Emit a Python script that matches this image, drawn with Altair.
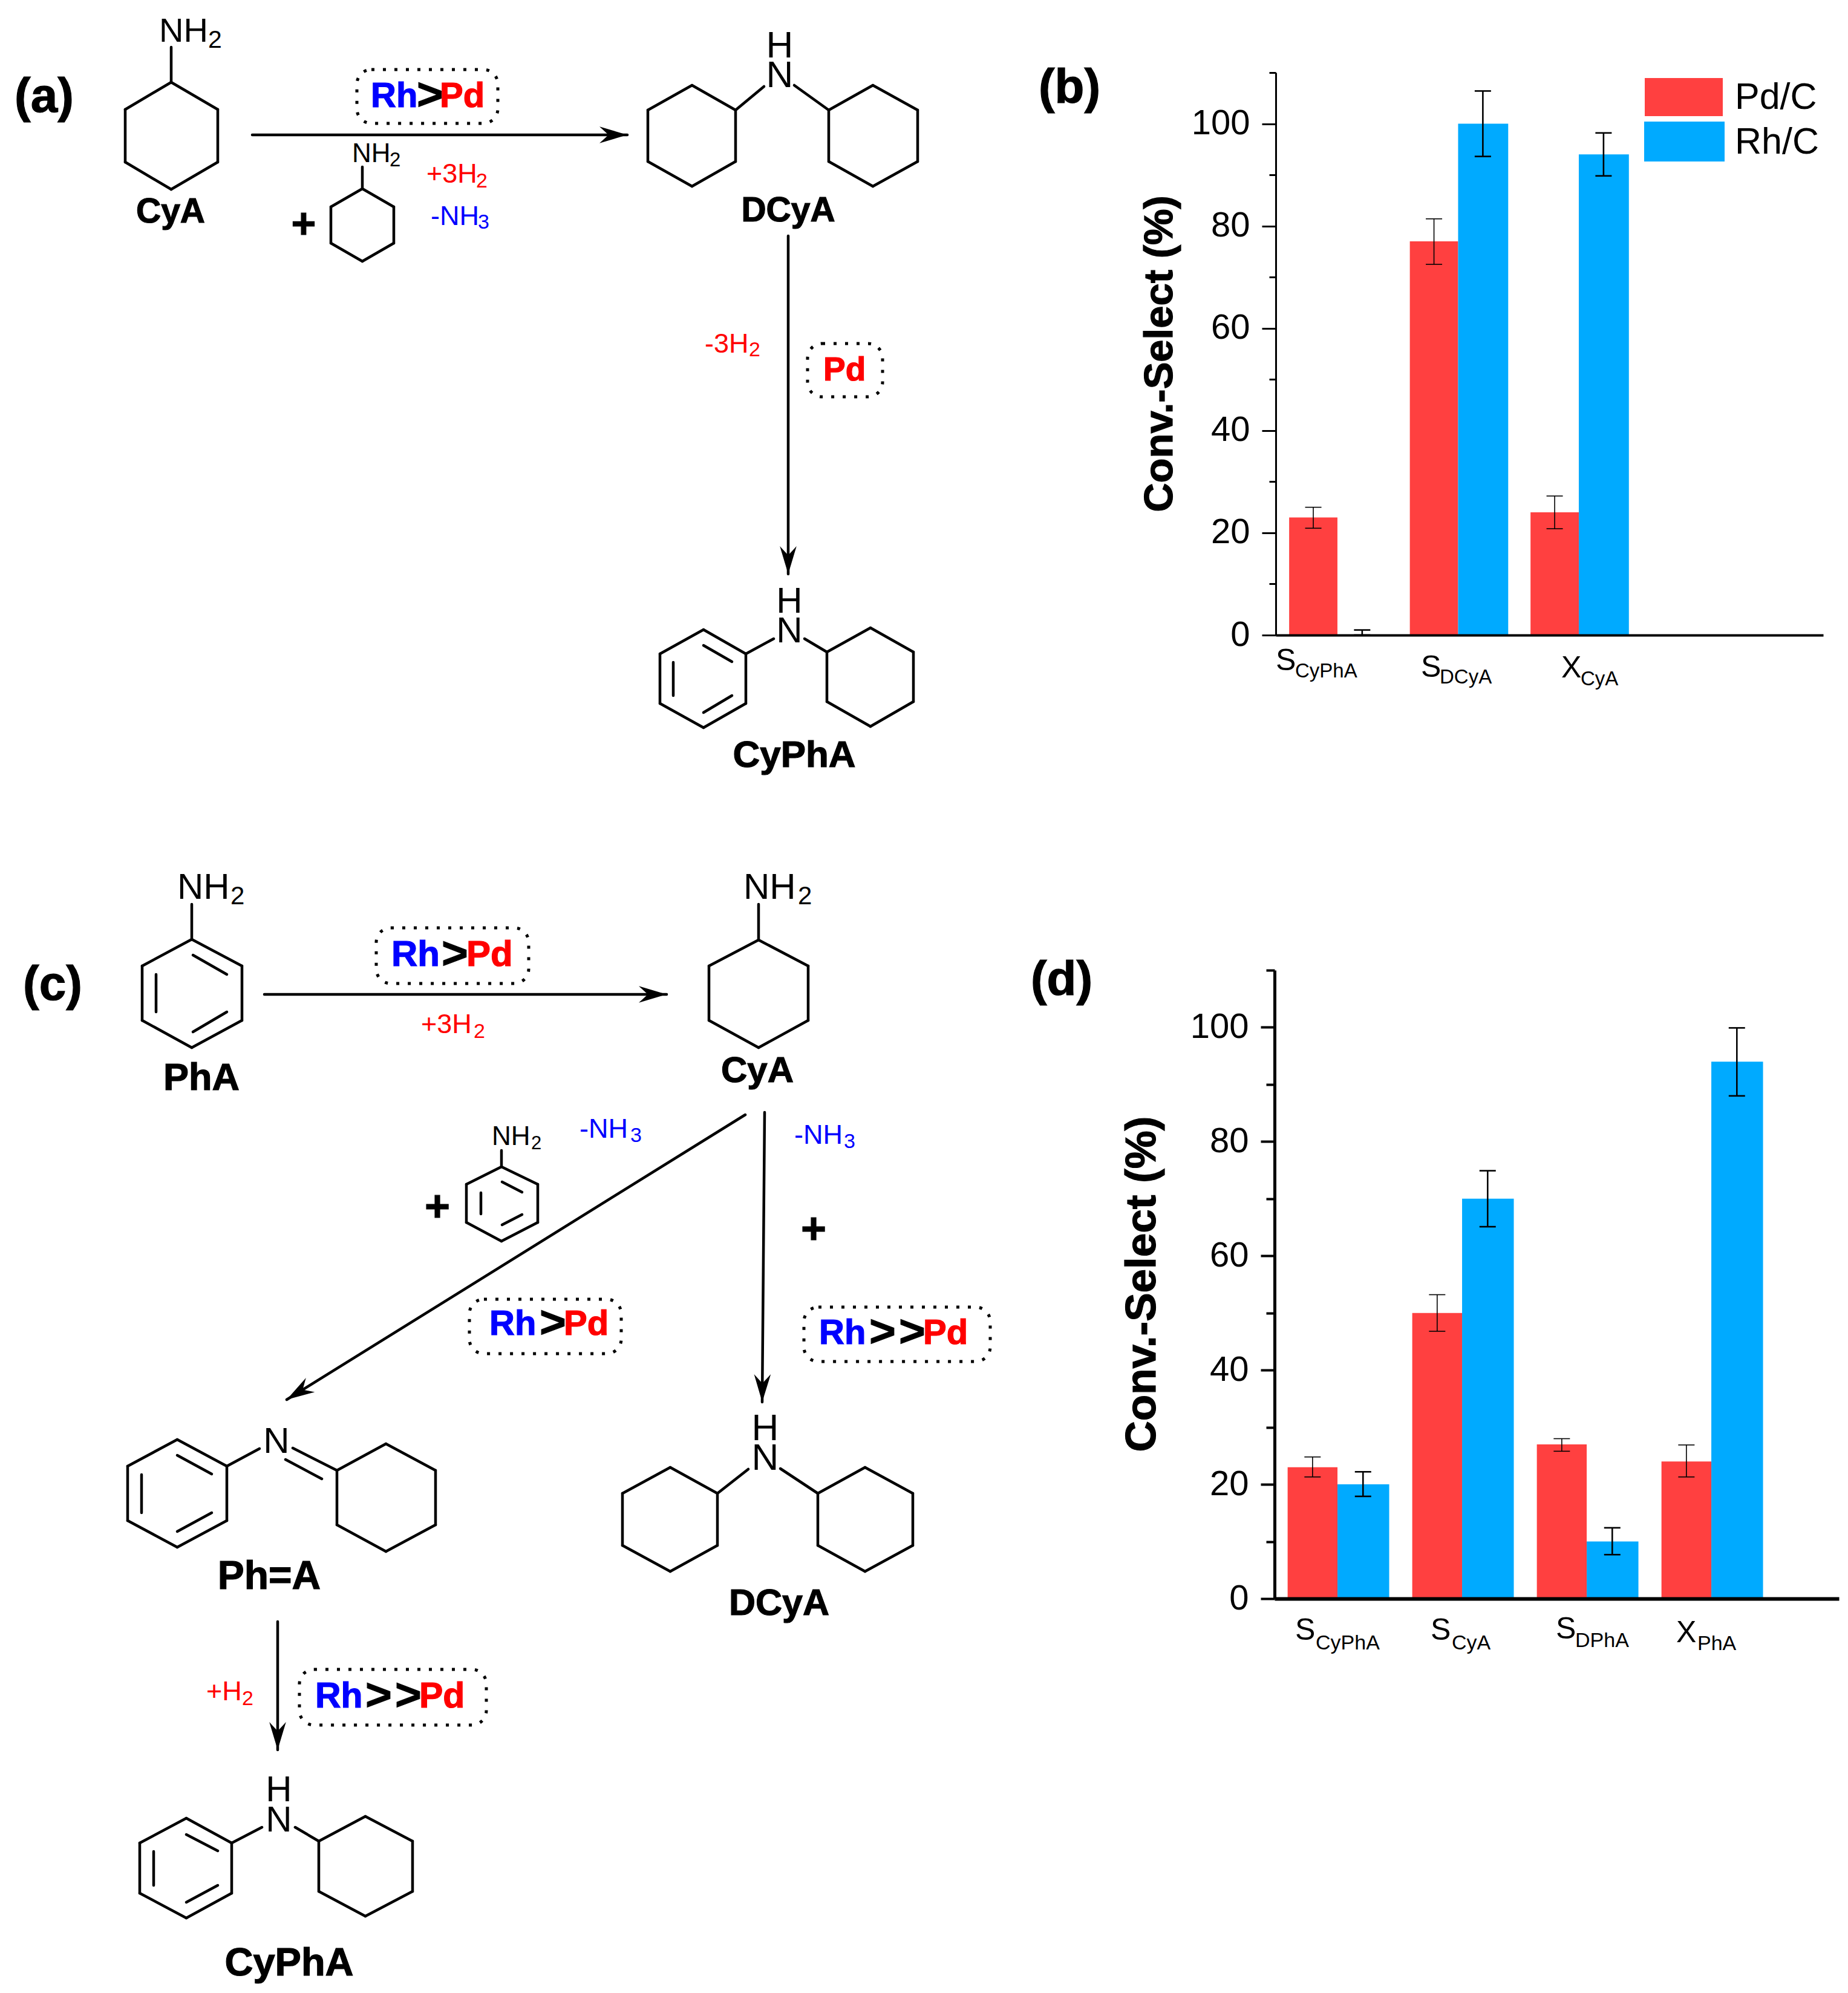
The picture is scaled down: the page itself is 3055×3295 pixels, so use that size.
import math
import altair as alt
import pandas as pd

FONT = "Liberation Sans"
RED = "#FF4040"
BLUE = "#00AAFF"
W, H = 3039, 3279

# ---------- bar values ----------
b_groups = [1, 2, 3]
b_pd = [23, 77, 24]
b_rh = [0, 100, 94]
b_pd_hi = [25, 81.4, 27.2]
b_pd_lo = [20.9, 72.5, 20.8]
b_rh_hi = [1, 106.4, 98.2]
b_rh_lo = [0, 93.6, 89.8]

d_groups = [1, 2, 3, 4]
d_pd = [23, 50, 27, 24]
d_rh = [20, 70, 10, 94]
d_pd_hi = [24.8, 53.2, 28, 26.9]
d_pd_lo = [21.3, 46.8, 25.8, 21.3]
d_rh_hi = [22.2, 74.9, 12.4, 99.9]
d_rh_lo = [17.9, 65.1, 7.7, 88]

major_ticks = [0, 20, 40, 60, 80, 100]
minor_ticks = [10, 30, 50, 70, 90, 110]

# ---------- molecule outlines ----------
closed_rings = [
    # (a) CyA, added CyA, DCyA x2, CyPhA x2
    [(283,136),(207,181),(207,268),(283,313),(360,268),(360,181)],
    [(599,312),(547,342),(547,402),(599,432),(651,402),(651,342)],
    [(1071,182),(1144,141),(1216,182),(1216,267),(1144,308),(1071,267)],
    [(1370,182),(1443,141),(1517,182),(1517,267),(1443,308),(1370,267)],
    [(1163,1041),(1091,1081),(1091,1163),(1163,1203),(1233,1163),(1233,1081)],
    [(1367,1078),(1439,1038),(1510,1078),(1510,1160),(1439,1201),(1367,1160)],
    # (c) PhA, CyA, added PhA, Ph=A x2, DCyA x2, CyPhA x2
    [(317,1553),(235,1597),(235,1687),(317,1732),(400,1687),(400,1597)],
    [(1254,1554),(1172,1597),(1172,1687),(1254,1732),(1336,1687),(1336,1597)],
    [(829,1929),(771,1958),(771,2021),(829,2052),(889,2021),(889,1958)],
    [(293,2380),(211,2424),(211,2514),(293,2558),(375,2514),(375,2424)],
    [(557,2431),(638,2387),(720,2431),(720,2521),(638,2565),(557,2521)],
    [(1029,2469),(1108,2426),(1186,2469),(1186,2555),(1108,2598),(1029,2555)],
    [(1352,2469),(1430,2426),(1509,2469),(1509,2555),(1430,2598),(1352,2555)],
    [(231,3047),(308,3006),(383,3047),(383,3130),(308,3171),(231,3130)],
    [(527,3044),(604,3003),(682,3044),(682,3127),(604,3168),(527,3127)],
]
bonds = [
    # (a)
    (283,136,283,78),(599,312,599,276),
    (1216,182,1263,143),(1313,141,1370,182),
    (1163,1067,1210,1094),(1113,1095,1113,1150),(1163,1178,1210,1150),
    (1233,1081,1279,1056),(1330,1056,1367,1078),
    # (c)
    (317,1553,317,1495),(1254,1554,1254,1495),(829,1929,829,1902),
    (319,1579,375,1611),(258,1611,258,1673),(319,1706,375,1673),
    (830,1954,863,1971),(795,1972,795,2007),(830,2025,863,2008),
    (293,2406,350,2437),(234,2438,234,2501),(293,2532,350,2501),
    (375,2424,429,2395),(484,2394,557,2431),(472,2413,532,2445),
    (1186,2469,1237,2429),(1290,2428,1352,2469),
    (308,3033,360,3060),(254,3061,254,3117),(308,3145,360,3117),
    (383,3047,433,3021),(488,3021,527,3044),
]
arrows = [
    (417,223,1037,223),(1303,390,1303,949),
    (437,1644,1102,1644),(1232,1843,474,2314),(1264,1839,1260,2318),
    (459,2681,459,2893),
]
boxes = [
    (590,115,823,204),(1335,568,1459,656),
    (622,1534,874,1626),(776,2148,1027,2238),(1329,2161,1637,2251),(495,2760,804,2852),
]

# text, x, baseline y, size, colour
reg_left = [
    ("NH",263,69,56,"black"),("2",344,79,41,"black"),
    ("NH",582,268,44,"black"),("2",644,275,33,"black"),
    ("+3H",705,302,45,"red"),("2",787,310,34,"red"),
    ("-NH",712,372,45,"blue"),("3",790,378,34,"blue"),
    ("-3H",1165,583,45,"red"),("2",1238,589,34,"red"),
    ("NH",293,1486,60,"black"),("2",381,1495,42,"black"),
    ("NH",1229,1486,60,"black"),("2",1319,1495,42,"black"),
    ("NH",813,1893,44,"black"),("2",878,1900,31,"black"),
    ("+3H",696,1708,45,"red"),("2",783,1716,34,"red"),
    ("-NH",958,1881,45,"blue"),("3",1042,1888,34,"blue"),
    ("-NH",1313,1891,45,"blue"),("3",1395,1898,34,"blue"),
    ("+H",341,2811,45,"red"),("2",400,2819,34,"red"),
    # bar chart labels
    ("S",2109,1108,50,"black"),("CyPhA",2141,1120,33,"black"),
    ("S",2349,1119,50,"black"),("DCyA",2380,1130,33,"black"),
    ("X",2581,1120,50,"black"),("CyA",2613,1133,33,"black"),
    ("Pd/C",2868,180,61,"black"),("Rh/C",2868,254,61,"black"),
    ("S",2141,2711,50,"black"),("CyPhA",2175,2727,34,"black"),
    ("S",2365,2711,50,"black"),("CyA",2400,2727,34,"black"),
    ("S",2572,2709,50,"black"),("DPhA",2604,2723,34,"black"),
    ("X",2771,2715,50,"black"),("PhA",2806,2728,34,"black"),
]
reg_center = [
    ("H",1289,95,62,"black"),("N",1289,144,62,"black"),
    ("H",1305,1013,60,"black"),("N",1305,1062,60,"black"),
    ("N",457,2402,60,"black"),
    ("H",1265,2381,62,"black"),("N",1265,2430,62,"black"),
    ("H",461,2978,60,"black"),("N",461,3028,60,"black"),
]
bold_center = [
    ("(a)",73,185,80,"black"),("(b)",1768,170,80,"black"),
    ("(c)",87,1653,80,"black"),("(d)",1755,1645,80,"black"),
    ("CyA",282,368,57,"black"),("DCyA",1303,366,57,"black"),
    ("CyPhA",1313,1268,62,"black"),("PhA",333,1802,63,"black"),
    ("CyA",1252,1789,60,"black"),("Ph=A",445,2627,66,"black"),
    ("DCyA",1288,2670,61,"black"),("CyPhA",478,3266,65,"black"),
    ("+",502,394,70,"black"),("+",723,2019,72,"black"),("+",1345,2056,72,"black"),
]
bold_left = [
    ("Rh",613,177,58,"blue"),(">",689,181,75,"black"),("Pd",727,177,58,"red"),
    ("Pd",1361,629,55,"red"),
    ("Rh",647,1597,60,"blue"),(">",730,1601,75,"black"),("Pd",771,1597,60,"red"),
    ("Rh",809,2207,58,"blue"),(">",892,2211,75,"black"),("Pd",932,2207,58,"red"),
    ("Rh",1354,2222,58,"blue"),(">",1437,2226,75,"black"),(">",1486,2226,75,"black"),("Pd",1526,2222,58,"red"),
    ("Rh",521,2823,59,"blue"),(">",604,2827,75,"black"),(">",653,2827,75,"black"),("Pd",693,2823,59,"red"),
]
y_titles = [("Conv.-Select (%)",1938,585,67),("Conv.-Select (%)",1910,2123,71)]

legend_swatches = [(2719,129,2848,192,RED),(2718,201,2851,267,BLUE)]

# ---------- page-pixel scale used by the schemes ----------
PX = alt.Scale(domain=[8, 8 + W], range=[0, W], nice=False, zero=False)
PY = alt.Scale(domain=[8, 8 + H], range=[0, H], nice=False, zero=False)


def seg_layer(rows, width):
    df = pd.DataFrame(rows, columns=["x1", "y1", "x2", "y2"])
    return alt.Chart(df).mark_rule(strokeWidth=width, strokeCap="round", color="black").encode(
        x=alt.X("x1:Q", scale=PX, axis=None),
        x2="x2:Q",
        y=alt.Y("y1:Q", scale=PY, axis=None),
        y2="y2:Q",
    )


def text_layer(rows, weight, align, heavy=0):
    df = pd.DataFrame(rows, columns=["t", "x", "y", "s", "c"])
    opts = {}
    enc = {}
    if heavy:
        opts["strokeWidth"] = heavy
        enc["stroke"] = alt.Stroke("c:N", scale=None, legend=None)
    return alt.Chart(df).mark_text(
        font=FONT, fontWeight=weight, align=align, baseline="alphabetic", **opts
    ).encode(
        x=alt.X("x:Q", scale=PX, axis=None),
        y=alt.Y("y:Q", scale=PY, axis=None),
        text="t:N",
        size=alt.Size("s:Q", scale=None, legend=None),
        color=alt.Color("c:N", scale=None, legend=None),
        **enc,
    )


ring_segments = []
for ring in closed_rings:
    for i, p in enumerate(ring):
        q = ring[(i + 1) % len(ring)]
        ring_segments.append((p[0], p[1], q[0], q[1]))

layers = [seg_layer(ring_segments, 4.5), seg_layer(bonds, 4.5), seg_layer(arrows, 4.5)]

# arrow heads, tip on the end of each arrow
head_rows = []
for x1, y1, x2, y2 in arrows:
    head_rows.append({"x": x2, "y": y2, "a": math.degrees(math.atan2(x2 - x1, y1 - y2)) % 360})
layers.append(
    alt.Chart(pd.DataFrame(head_rows)).mark_point(
        shape="M0,0 L0.6,2 L0,1.35 L-0.6,2 Z", size=2116, filled=True, opacity=1, color="black"
    ).encode(
        x=alt.X("x:Q", scale=PX, axis=None),
        y=alt.Y("y:Q", scale=PY, axis=None),
        angle=alt.Angle("a:Q", scale=None),
    )
)

# dotted catalyst boxes
layers.append(
    alt.Chart(pd.DataFrame(boxes, columns=["x1", "y1", "x2", "y2"])).mark_rect(
        fill="#ffffff", fillOpacity=0, stroke="black", strokeWidth=5,
        strokeDash=[5, 14], cornerRadius=24
    ).encode(
        x=alt.X("x1:Q", scale=PX, axis=None), x2="x2:Q",
        y=alt.Y("y1:Q", scale=PY, axis=None), y2="y2:Q",
    )
)


def panel(groups, pd_v, rh_v, pd_hi, pd_lo, rh_hi, rh_lo, xdom, xpx, ypx, dom_w, tick_w, minor_len, pad):
    sx = alt.Scale(domain=xdom, range=[xpx[0] - 8, xpx[1] - 8], nice=False, zero=False)
    sy = alt.Scale(domain=[0, 110], range=[ypx[0] - 8, ypx[1] - 8], nice=False, zero=False)
    axis_off = -(xpx[0] - 8)
    out = []
    # x axis line
    out.append(
        alt.Chart(pd.DataFrame({"x": [xdom[0]]})).mark_point(opacity=0).encode(
            x=alt.X("x:Q", scale=sx, title=None, axis=alt.Axis(
                orient="bottom", offset=-(H - (ypx[0] - 8)), labels=False, ticks=False, grid=False,
                domainColor="black", domainWidth=dom_w + 1, zindex=1)),
            y=alt.Y("x:Q", scale=sy, axis=None),
        )
    )
    series = [("Pd/C", pd_v, pd_hi, pd_lo, RED, -0.40, 0.0, -0.20, 1.6),
              ("Rh/C", rh_v, rh_hi, rh_lo, BLUE, 0.0, 0.415, 0.205, 2.6)]
    first = True
    for name, vals, hi, lo, col, a, b, c, th in series:
        df = pd.DataFrame({
            "group": groups, "value": vals, "hi": hi, "lo": lo,
            "zero": [0] * len(groups),
            "left": [g + a for g in groups], "right": [g + b for g in groups],
            "mid": [g + c for g in groups],
        })
        yaxis = None
        if first:
            yaxis = alt.Axis(
                orient="left", offset=axis_off, values=major_ticks, grid=False, title=None,
                domainColor="black", domainWidth=dom_w, tickColor="black", tickWidth=tick_w,
                tickSize=23, labelFont=FONT, labelFontSize=58, labelColor="black",
                labelPadding=pad, labelBaseline="middle", zindex=1,
            )
            first = False
        out.append(
            alt.Chart(df).mark_bar(color=col, opacity=1).encode(
                x=alt.X("left:Q", scale=sx, axis=None), x2="right:Q",
                y=alt.Y("value:Q", scale=sy, axis=yaxis), y2="zero:Q",
            )
        )
        base = alt.Chart(df)
        out.append(base.mark_rule(color="black", strokeWidth=th).encode(
            x=alt.X("mid:Q", scale=sx, axis=None),
            y=alt.Y("hi:Q", scale=sy, axis=None), y2="lo:Q"))
        for col_name in ("hi", "lo"):
            out.append(base.mark_tick(orient="horizontal", size=27, thickness=th, color="black", opacity=1).encode(
                x=alt.X("mid:Q", scale=sx, axis=None),
                y=alt.Y(f"{col_name}:Q", scale=sy, axis=None)))
    # minor ticks
    out.append(
        alt.Chart(pd.DataFrame({"m": minor_ticks})).mark_point(opacity=0).encode(
            y=alt.Y("m:Q", scale=sy, title=None, axis=alt.Axis(
                orient="left", offset=axis_off, values=minor_ticks, grid=False, labels=False,
                domain=False, tickColor="black", tickWidth=tick_w, tickSize=minor_len, zindex=1)),
        )
    )
    return out


layers += panel(b_groups, b_pd, b_rh, b_pd_hi, b_pd_lo, b_rh_hi, b_rh_lo,
                [0.489, 5.025], (2109, 3014), (1050, 120), 3, 3, 11, 20)
layers += panel(d_groups, d_pd, d_rh, d_pd_hi, d_pd_lo, d_rh_hi, d_rh_lo,
                [0.495, 5.024], (2107, 3040), (2643, 1604), 5, 4, 14, 20)

# legend of panel (b)
layers.append(
    alt.Chart(pd.DataFrame(legend_swatches, columns=["x1", "y1", "x2", "y2", "c"])).mark_rect(opacity=1).encode(
        x=alt.X("x1:Q", scale=PX, axis=None), x2="x2:Q",
        y=alt.Y("y1:Q", scale=PY, axis=None), y2="y2:Q",
        color=alt.Color("c:N", scale=None, legend=None),
    )
)

layers.append(text_layer(reg_left, "normal", "left"))
layers.append(text_layer(reg_center, "normal", "center"))
layers.append(text_layer(bold_center, "bold", "center", heavy=1.2))
layers.append(text_layer(bold_left, "bold", "left", heavy=1.2))

layers.append(
    alt.Chart(pd.DataFrame(y_titles, columns=["t", "x", "y", "s"])).mark_text(
        font=FONT, fontWeight="bold", align="center", baseline="alphabetic", angle=270,
        color="black", stroke="black", strokeWidth=1.2
    ).encode(
        x=alt.X("x:Q", scale=PX, axis=None),
        y=alt.Y("y:Q", scale=PY, axis=None),
        text="t:N",
        size=alt.Size("s:Q", scale=None, legend=None),
    )
)

chart = alt.layer(*layers).resolve_scale(x="independent", y="independent").properties(
    width=W, height=H, padding=0,
    autosize=alt.AutoSizeParams(type="none"),
    background="white",
).configure_view(stroke=None)

chart.save("out.html", embed_options={"renderer": "svg", "actions": False})
